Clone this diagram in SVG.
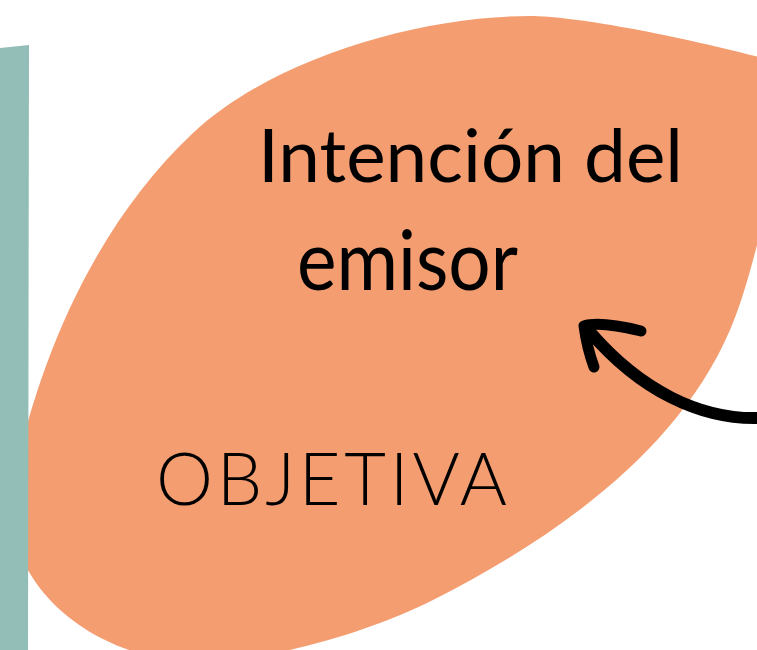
<svg xmlns="http://www.w3.org/2000/svg" width="757" height="650" viewBox="0 0 757 650">
  <style>
    .lbl { font-family: Lato, "Open Sans", "Liberation Sans", sans-serif; fill: #000000; }
    .arrow { fill: none; stroke: #000000; stroke-linecap: round; stroke-linejoin: round; }
  </style>
  <rect x="0" y="0" width="757" height="650" fill="#ffffff"/>
  <g id="leaf">
    <path d="M 14,480 C 39.5,352.6 99,221 193,133 C 273.5,58 420,16 530,16 C 580,16 700,40 800,68 C 780,130 760,260 730,330 C 678.8,449.5 557.6,537 433,600 C 361.8,636 260,662 200,662 C 95,662 -6.6,583 14,480 Z" fill="#F39D70"/>
  </g>
  <g id="bar">
    <polygon points="0,48 29,45 28,650 0,650" fill="#93BDB7"/>
  </g>
  <g id="intencion">
    <text class="lbl" x="258" y="182" font-size="74" textLength="425" lengthAdjust="spacingAndGlyphs">Intención del</text>
    <text class="lbl" x="297" y="290" font-size="84" textLength="221" lengthAdjust="spacingAndGlyphs">emisor</text>
  </g>
  <g id="objetiva">
    <text class="lbl" x="156" y="505" font-size="72" font-weight="300" textLength="351" lengthAdjust="spacing">OBJETIVA</text>
  </g>
  <g id="connectors">
    <path class="arrow" d="M 760,418 C 700,420 640,390 590,332" stroke-width="12"/>
    <path class="arrow" d="M 641,331 Q 600,321 584,326 Q 587,348 594,367" stroke-width="11"/>
  </g>
</svg>
